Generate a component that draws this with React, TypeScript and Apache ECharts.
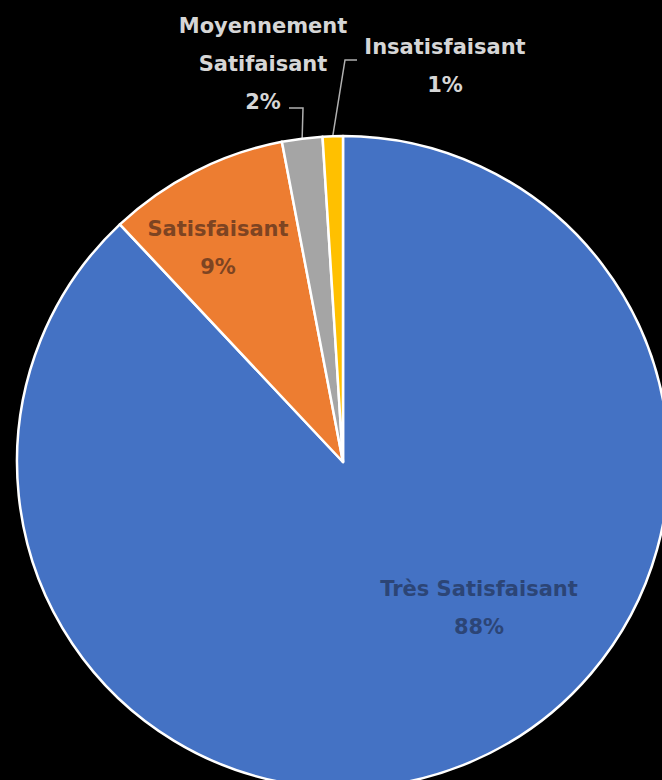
import React, { useEffect, useRef } from "react";
import * as echarts from "echarts";

const categories = ["Très Satisfaisant", "Satisfaisant", "Moyennement Satifaisant", "Insatisfaisant"];
const labelNames = ["Très Satisfaisant", "Satisfaisant", "Moyennement\nSatifaisant", "Insatisfaisant"];
const values = [88, 9, 2, 1];
const colors = ["#4472C4", "#ED7D31", "#A5A5A5", "#FFC000"];
const labelColors = ["#2c4576", "#7d4422", "#d6d6d6", "#d6d6d6"];

// label placement (x, y of label block centre) and leader line bends
const labelPlaces = [
  { x: 479, y: 608 },
  { x: 218, y: 248 },
  { x: 263, y: 64 },
  { x: 445, y: 66 },
];
const leaderBends: (number[][] | null)[] = [
  null,
  null,
  [[303, 108], [289, 108]],
  [[345, 60], [357, 60]],
];

const FONT = "'DejaVu Sans', 'Open Sans', sans-serif";

export default function App() {
  const ref = useRef<HTMLDivElement>(null);
  useEffect(() => {
    if (!ref.current) return;
    const chart = echarts.init(ref.current, null, { renderer: "svg" });
    const cx = 343, cy = 462, r = 326;
    const total = values.reduce((a, b) => a + b, 0);
    chart.setOption({
      animation: false,
      backgroundColor: "#000000",
      series: [
        {
          type: "pie",
          center: [cx, cy],
          radius: r,
          startAngle: 90,
          clockwise: true,
          avoidLabelOverlap: false,
          itemStyle: { borderColor: "#ffffff", borderWidth: 2.5 },
          labelLine: { show: true, length: 20, length2: 12, lineStyle: { color: "#b0b0b0", width: 1.5 } },
          data: categories.map((name, i) => ({
            name,
            value: values[i],
            itemStyle: { color: colors[i] },
            label: {
              show: true,
              position: i < 2 ? "inside" : "outside",
              color: labelColors[i],
              fontFamily: FONT,
              fontSize: 21,
              fontWeight: "bold",
              lineHeight: 38,
              align: "center",
              formatter: () => `${labelNames[i]}\n${Math.round((values[i] / total) * 100)}%`,
            },
            labelLine: { show: i >= 2 },
          })),
          labelLayout: (params: any) => {
            const i = params.dataIndex;
            const p = labelPlaces[i];
            const out: any = { x: p.x, y: p.y, align: "center", verticalAlign: "middle", hideOverlap: false };
            const bends = leaderBends[i];
            if (bends) {
              let acc = 0;
              for (let k = 0; k < i; k++) acc += values[k];
              const mid = ((acc + values[i] / 2) / total) * Math.PI * 2;
              const sx = cx + r * Math.sin(mid);
              const sy = cy - r * Math.cos(mid);
              out.labelLinePoints = [[sx, sy], ...bends];
            }
            return out;
          },
        },
      ],
    });
    return () => chart.dispose();
  }, []);
  return (
    <div
      ref={ref}
      style={{ position: "fixed", left: 0, top: 0, width: 662, height: 780, background: "#000" }}
    />
  );
}
